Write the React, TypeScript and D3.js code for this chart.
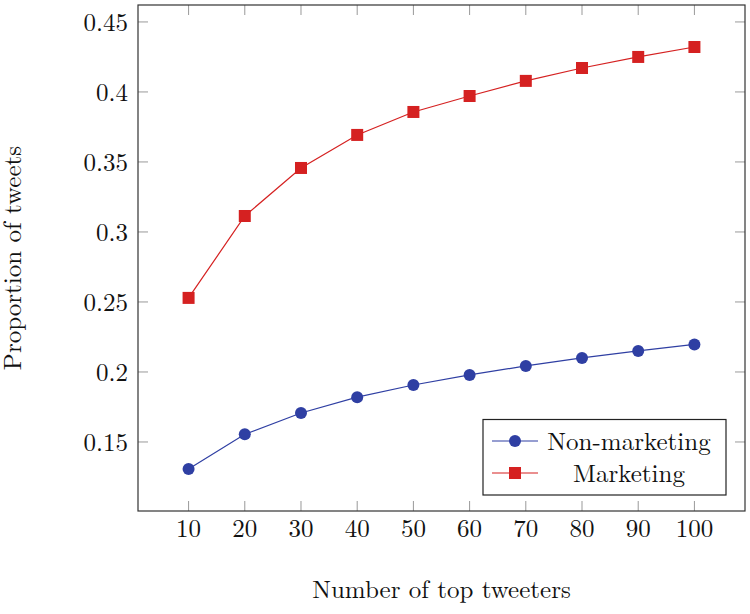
import React from "react";
import * as d3 from "d3";

const topTweeters = [10, 20, 30, 40, 50, 60, 70, 80, 90, 100];
const nonMarketing = [0.1307, 0.1555, 0.1707, 0.182, 0.1907, 0.1979, 0.2043, 0.21, 0.215, 0.2197];
const marketing = [0.2529, 0.3114, 0.3457, 0.3693, 0.3857, 0.3971, 0.4079, 0.4171, 0.425, 0.4321];
const yTicks = [0.15, 0.2, 0.25, 0.3, 0.35, 0.4, 0.45];
const yTickLabels = ["0.15", "0.2", "0.25", "0.3", "0.35", "0.4", "0.45"];
const seriesNames = ["Non-marketing", "Marketing"];

const W = 750, H = 614;
const left = 138, right = 745, top = 5, bottom = 511;
const font = "'Latin Modern Roman', 'CMU Serif', 'DejaVu Serif', serif";
const blue = "#2f3fa3";
const red = "#d52121";
const fs = 25;

export default function App() {
  const x = d3.scaleLinear().domain([1, 109]).range([left, right]);
  const y = d3.scaleLinear().domain([0.1007, 0.4621]).range([bottom, top]);
  const line = d3.line<number>().x((_, i) => x(topTweeters[i])).y((d) => y(d));
  const tl = 10;
  return (
    <svg width={W} height={H} style={{ position: "absolute", left: 0, top: 0 }}>
      <rect x={0} y={0} width={W} height={H} fill="white" />
      {topTweeters.map((t) => (
        <g key={"xt" + t} stroke="#999" strokeWidth={1}>
          <line x1={x(t)} x2={x(t)} y1={bottom} y2={bottom - tl} />
          <line x1={x(t)} x2={x(t)} y1={top} y2={top + tl} />
        </g>
      ))}
      {yTicks.map((t) => (
        <g key={"yt" + t} stroke="#999" strokeWidth={1}>
          <line x1={left} x2={left + tl} y1={y(t)} y2={y(t)} />
          <line x1={right} x2={right - tl} y1={y(t)} y2={y(t)} />
        </g>
      ))}
      <path d={line(nonMarketing) || ""} fill="none" stroke={blue} strokeWidth={1.2} />
      <path d={line(marketing) || ""} fill="none" stroke={red} strokeWidth={1.2} />
      {nonMarketing.map((v, i) => (
        <circle key={"c" + i} cx={x(topTweeters[i])} cy={y(v)} r={6} fill={blue} />
      ))}
      {marketing.map((v, i) => (
        <rect key={"s" + i} x={x(topTweeters[i]) - 6} y={y(v) - 6} width={12} height={12} fill={red} />
      ))}
      <rect x={left} y={top} width={right - left} height={bottom - top} fill="none" stroke="#333" strokeWidth={1.2} />
      {topTweeters.map((t) => (
        <text key={"xl" + t} x={x(t)} y={537} textAnchor="middle" fontFamily={font} fontSize={fs} fill="#111">
          {t}
        </text>
      ))}
      {yTicks.map((t, i) => (
        <text key={"yl" + t} x={128} y={y(t)} dy="0.35em" textAnchor="end" fontFamily={font} fontSize={fs} fill="#111">
          {yTickLabels[i]}
        </text>
      ))}
      <text x={(left + right) / 2} y={598} textAnchor="middle" fontFamily={font} fontSize={fs} fill="#111">
        Number of top tweeters
      </text>
      <text transform={`translate(21, ${(top + bottom) / 2}) rotate(-90)`} textAnchor="middle" fontFamily={font} fontSize={fs} fill="#111">
        Proportion of tweets
      </text>
      <rect x={483} y={419.5} width={243} height={75.5} fill="white" stroke="#222" strokeWidth={1.2} />
      <line x1={492} x2={538} y1={441} y2={441} stroke={blue} strokeWidth={1.2} />
      <circle cx={515} cy={441} r={6} fill={blue} />
      <text x={629} y={441} dy="0.35em" textAnchor="middle" fontFamily={font} fontSize={fs} fill="#111">
        {seriesNames[0]}
      </text>
      <line x1={492} x2={538} y1={473} y2={473} stroke={red} strokeWidth={1.2} />
      <rect x={509} y={467} width={12} height={12} fill={red} />
      <text x={629} y={473} dy="0.35em" textAnchor="middle" fontFamily={font} fontSize={fs} fill="#111">
        {seriesNames[1]}
      </text>
    </svg>
  );
}
